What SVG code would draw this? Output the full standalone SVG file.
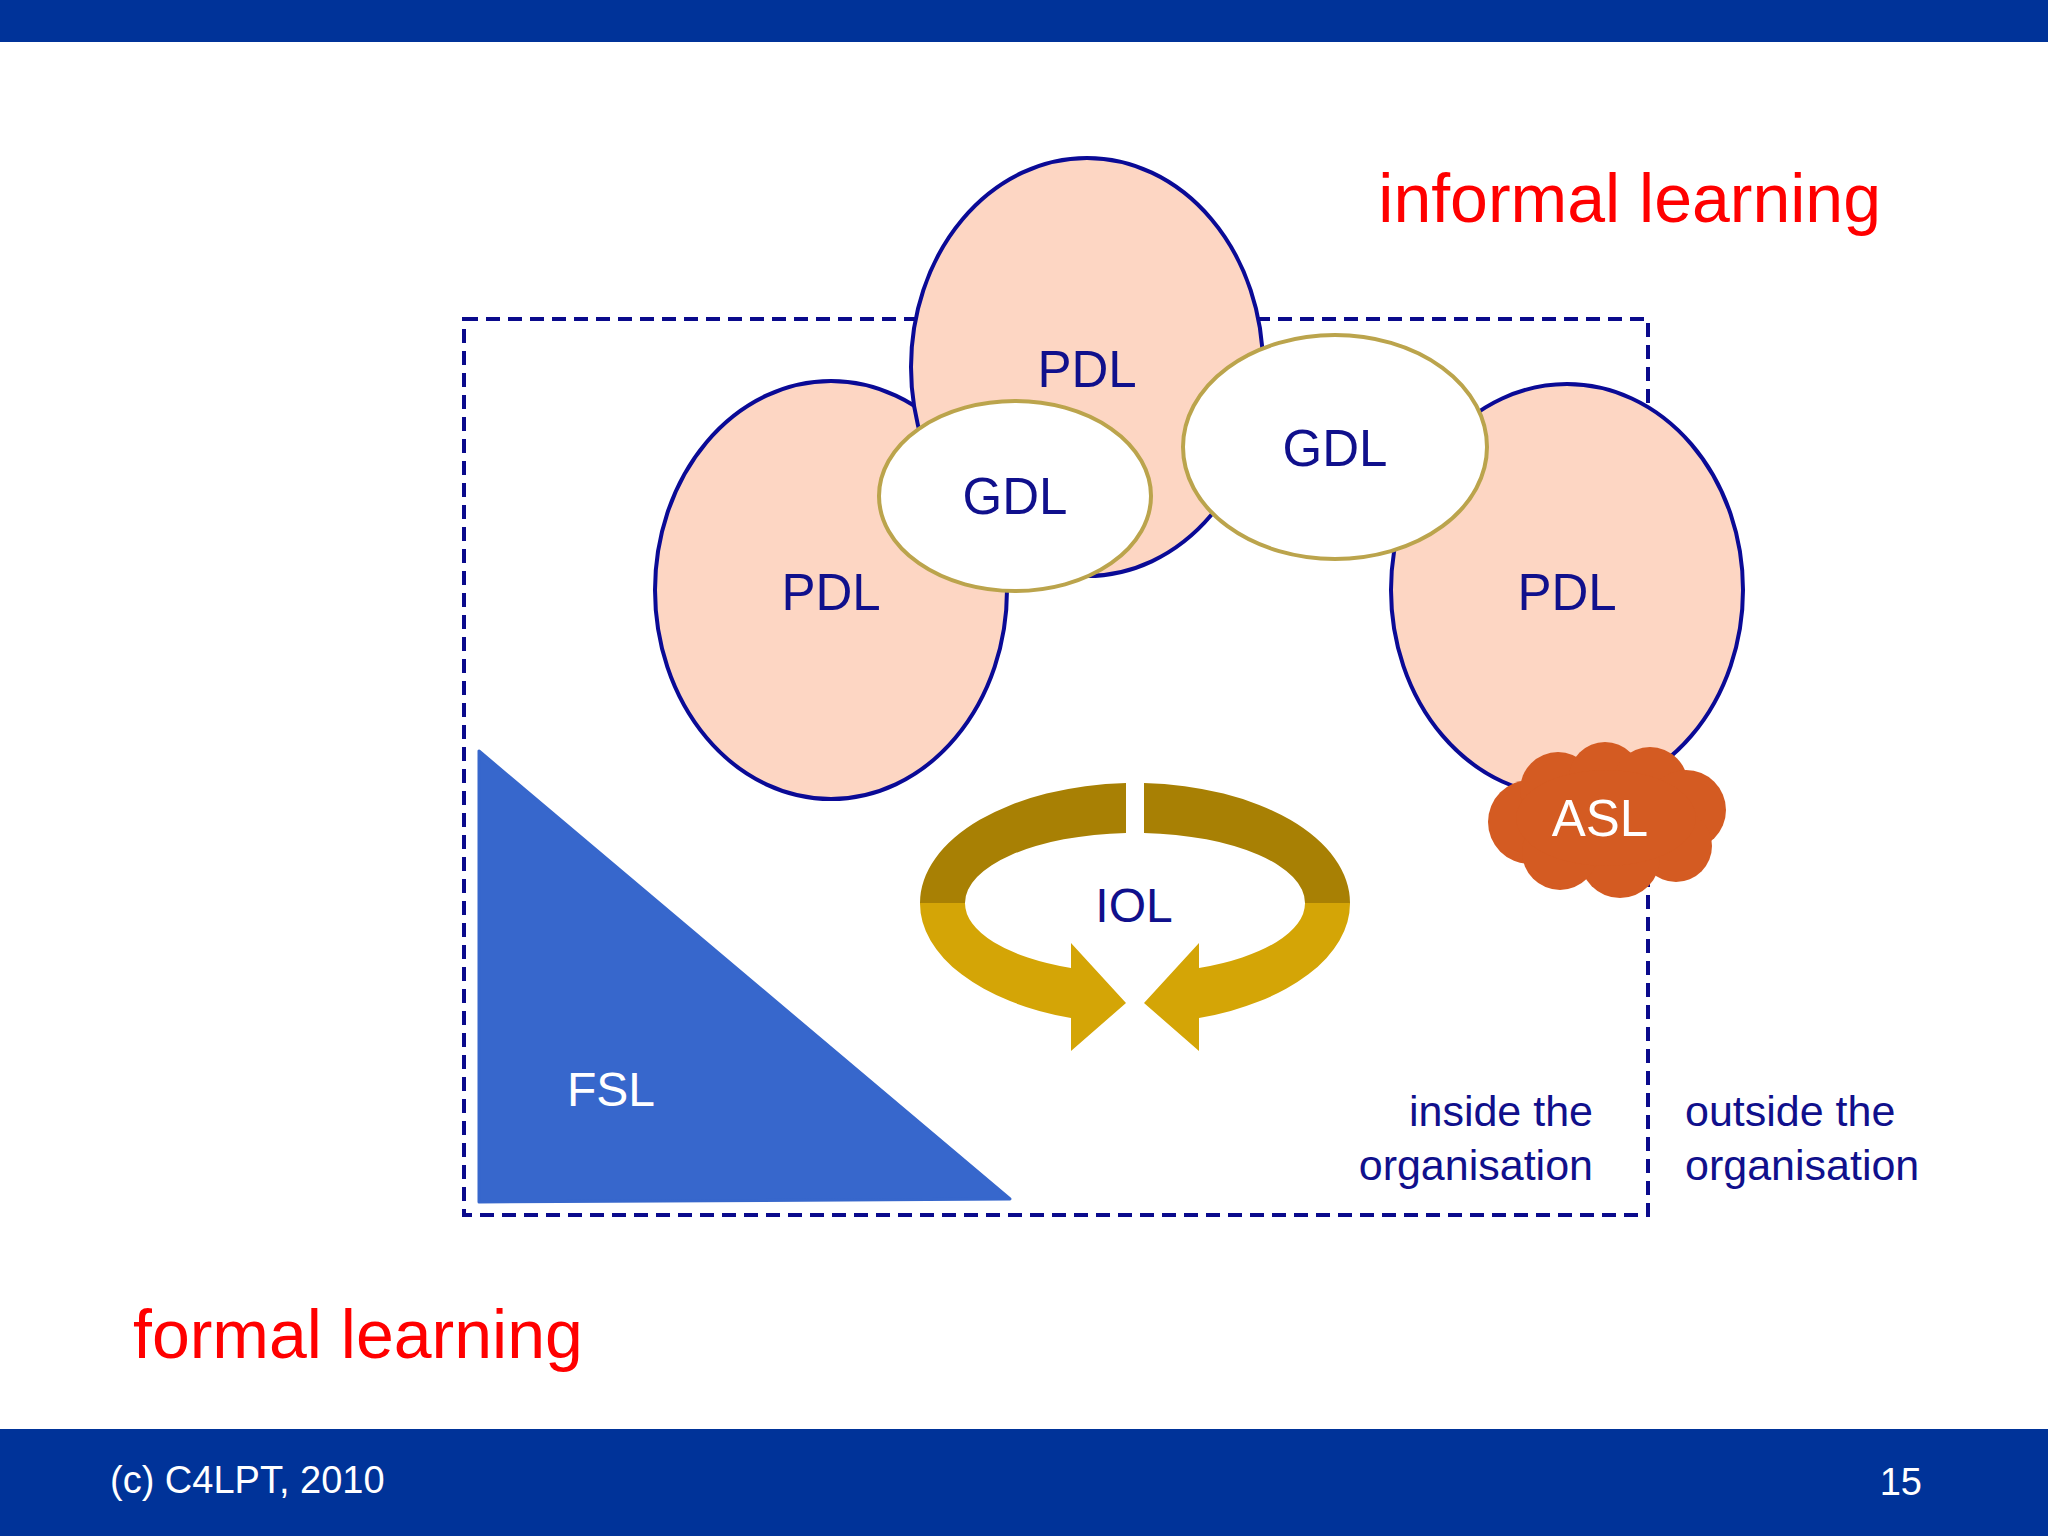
<svg xmlns="http://www.w3.org/2000/svg" width="2048" height="1536" viewBox="0 0 2048 1536">
<style>
.pdl{fill:#fdd6c3;stroke:#0a0a96;stroke-width:4}
.gdl{fill:#fff;stroke:#bba44c;stroke-width:4}
.lbl{font-family:"Liberation Sans",Arial,sans-serif;fill:#10108c;text-anchor:middle}
.red{font-family:"Liberation Sans",Arial,sans-serif;fill:#ff0000;font-size:68px}
.nav{font-family:"Liberation Sans",Arial,sans-serif;fill:#10108c;font-size:43px}
.wh{font-family:"Liberation Sans",Arial,sans-serif;fill:#fff}
</style>
<rect width="2048" height="1536" fill="#fff"/>
<rect x="0" y="0" width="2048" height="42" fill="#003399"/>
<rect x="0" y="1429" width="2048" height="107" fill="#003399"/>
<g id="frame"><rect x="464" y="319" width="1184" height="896" fill="none" stroke="#0a0a8c" stroke-width="4" stroke-dasharray="14,8"/></g>
<g id="fsl"><polygon points="479,751 479,1202 1010,1199" fill="#3767cc" stroke="#3767cc" stroke-width="3" stroke-linejoin="round"/><text class="wh" x="611" y="1106" font-size="48" text-anchor="middle">FSL</text></g>
<g id="pdl-left"><ellipse class="pdl" cx="831" cy="590" rx="176" ry="209"/><text class="lbl" x="831" y="610" font-size="51">PDL</text></g>
<g id="pdl-top"><ellipse class="pdl" cx="1087" cy="367" rx="176" ry="209"/><text class="lbl" x="1087" y="387" font-size="51">PDL</text></g>
<g id="pdl-right"><ellipse class="pdl" cx="1567" cy="590" rx="176" ry="206"/><text class="lbl" x="1567" y="610" font-size="51">PDL</text></g>
<g id="gdl-left"><ellipse class="gdl" cx="1015" cy="496" rx="136" ry="95"/><text class="lbl" x="1015" y="514" font-size="51">GDL</text></g>
<g id="gdl-right"><ellipse class="gdl" cx="1335" cy="447" rx="152" ry="112"/><text class="lbl" x="1335" y="466" font-size="51">GDL</text></g>
<g id="asl" fill="#d45b22">
<circle cx="1530" cy="822" r="42"/><circle cx="1558" cy="790" r="38"/><circle cx="1605" cy="778" r="36"/><circle cx="1650" cy="785" r="38"/><circle cx="1686" cy="810" r="40"/><circle cx="1676" cy="846" r="36"/><circle cx="1620" cy="858" r="40"/><circle cx="1560" cy="852" r="38"/><ellipse cx="1606" cy="818" rx="90" ry="48"/>
<text class="wh" x="1600" y="836" font-size="51" text-anchor="middle">ASL</text></g>
<g id="iol" transform="translate(-8,0)">
<g id="arrow-left">
<path d="M1134,783 A215,120 0 0 0 928,903 L973,903 A170,70 0 0 1 1134,833 Z" fill="#a88004"/>
<path d="M928,903 A215,120 0 0 0 1079,1018 L1079,1051 L1134,1003 L1079,943 L1079,968 A170,70 0 0 1 973,903 Z" fill="#d4a506"/>
</g>
<g transform="translate(2286,0) scale(-1,1)">
<path d="M1134,783 A215,120 0 0 0 928,903 L973,903 A170,70 0 0 1 1134,833 Z" fill="#a88004"/>
<path d="M928,903 A215,120 0 0 0 1079,1018 L1079,1051 L1134,1003 L1079,943 L1079,968 A170,70 0 0 1 973,903 Z" fill="#d4a506"/>
</g>
<text class="lbl" x="1142" y="922" font-size="48">IOL</text>
</g>
<text class="red" x="1881" y="222" text-anchor="end">informal learning</text>
<text class="red" x="133" y="1358">formal learning</text>
<text class="nav" x="1593" y="1126" text-anchor="end">inside the</text>
<text class="nav" x="1593" y="1180" text-anchor="end">organisation</text>
<text class="nav" x="1685" y="1126">outside the</text>
<text class="nav" x="1685" y="1180">organisation</text>
<text class="wh" x="110" y="1493" font-size="38">(c) C4LPT, 2010</text>
<text class="wh" x="1922" y="1495" font-size="38" text-anchor="end">15</text>
</svg>
